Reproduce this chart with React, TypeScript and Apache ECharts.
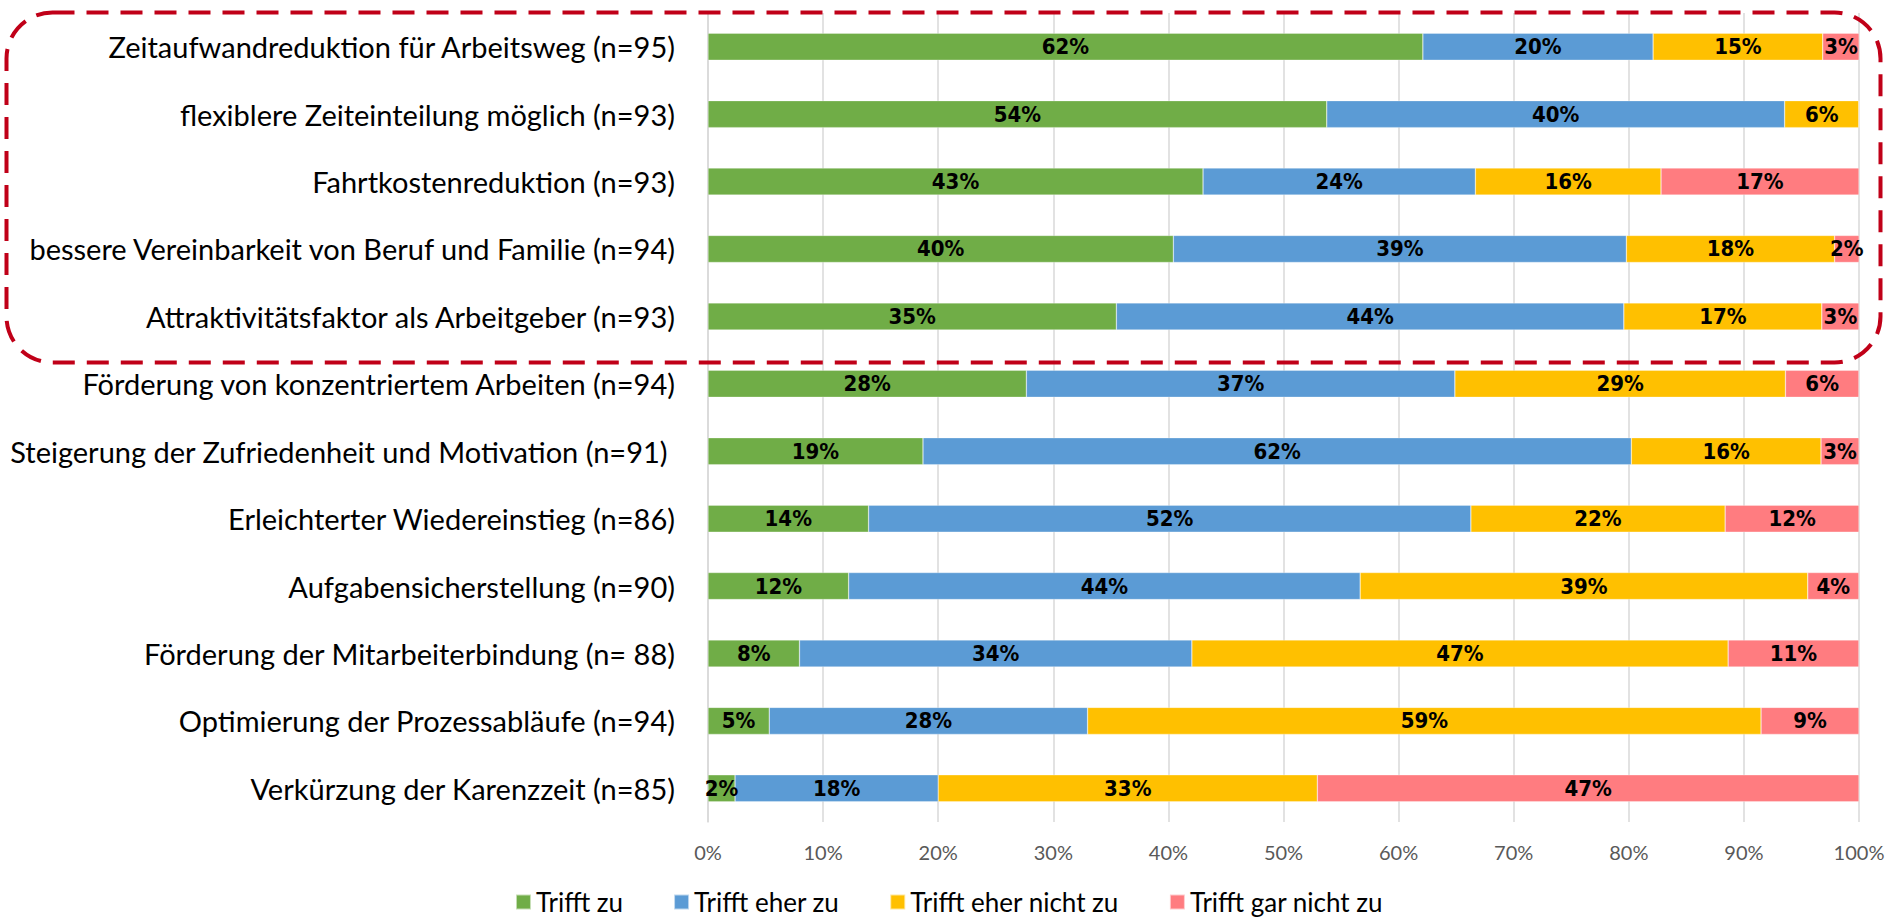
import React, { useEffect, useRef } from "react";
import * as echarts from "echarts";

const categories = [
  "Zeitaufwandreduktion für Arbeitsweg (n=95)",
  "flexiblere Zeiteinteilung möglich (n=93)",
  "Fahrtkostenreduktion (n=93)",
  "bessere Vereinbarkeit von Beruf und Familie (n=94)",
  "Attraktivitätsfaktor als Arbeitgeber (n=93)",
  "Förderung von konzentriertem Arbeiten (n=94)",
  "Steigerung der Zufriedenheit und Motivation (n=91) ",
  "Erleichterter Wiedereinstieg (n=86)",
  "Aufgabensicherstellung (n=90)",
  "Förderung der Mitarbeiterbindung (n= 88)",
  "Optimierung der Prozessabläufe (n=94)",
  "Verkürzung der Karenzzeit (n=85)",
];

const trifftZu = [62.11, 53.76, 43.01, 40.43, 35.48, 27.66, 18.68, 13.95, 12.22, 7.95, 5.32, 2.35];
const trifftEherZu = [20.0, 39.78, 23.66, 39.36, 44.09, 37.23, 61.54, 52.33, 44.44, 34.09, 27.66, 17.65];
const trifftEherNichtZu = [14.74, 6.45, 16.13, 18.09, 17.2, 28.72, 16.48, 22.09, 38.89, 46.59, 58.51, 32.94];
const trifftGarNichtZu = [3.16, 0, 17.2, 2.13, 3.23, 6.38, 3.3, 11.63, 4.44, 11.36, 8.51, 47.06];

const seriesNames = ["Trifft zu", "Trifft eher zu", "Trifft eher nicht zu", "Trifft gar nicht zu"];
const seriesColors = ["#70AD47", "#5B9BD5", "#FFC000", "#FF7C80"];
const xTicks = [0, 10, 20, 30, 40, 50, 60, 70, 80, 90, 100];

const labelFont = "Lato, 'Open Sans', sans-serif";
const barLabelFont = "'Liberation Sans Narrow', 'DejaVu Sans Condensed', Lato, sans-serif";

export default function App() {
  const ref = useRef<HTMLDivElement>(null);
  useEffect(() => {
    document.body.style.margin = "0";
    if (!ref.current) return;
    const chart = echarts.init(ref.current, undefined, { renderer: "svg" });
    const allData = [trifftZu, trifftEherZu, trifftEherNichtZu, trifftGarNichtZu];
    chart.setOption({
      animation: false,
      backgroundColor: "#ffffff",
      grid: { left: 708, right: 39, top: 13, bottom: 100, containLabel: false },
      xAxis: {
        type: "value",
        min: 0,
        max: 100,
        interval: 10,
        axisLine: { show: false },
        axisTick: { show: false },
        splitLine: { show: true, lineStyle: { color: "#D9D9D9", width: 1.5 } },
        axisLabel: {
          formatter: (v: number) => (xTicks.includes(v) ? v + "%" : ""),
          color: "#595959",
          fontSize: 20,
          fontFamily: labelFont,
          margin: 20,
        },
      },
      yAxis: {
        type: "category",
        data: categories,
        inverse: true,
        axisLine: { show: true, lineStyle: { color: "#D9D9D9", width: 1.5 } },
        axisTick: { show: false },
        axisLabel: {
          color: "#000000",
          fontSize: 29,
          fontFamily: labelFont,
          margin: 33,
        },
      },
      legend: {
        data: seriesNames,
        left: "center",
        bottom: 2,
        itemWidth: 15,
        itemHeight: 15,
        itemGap: 50,
        icon: "rect",
        textStyle: { fontSize: 26, fontFamily: labelFont, color: "#000000" },
      },
      series: seriesNames.map((name, i) => ({
        name,
        type: "bar",
        stack: "total",
        barWidth: 27,
        data: allData[i],
        itemStyle: { color: seriesColors[i], borderColor: "rgba(255,255,255,0.6)", borderWidth: 0.5 },
        label: {
          show: true,
          position: "inside",
          color: "#000000",
          fontWeight: "bold",
          fontSize: 22,
          fontFamily: barLabelFont,
          formatter: (p: any) => (p.value > 0 ? Math.round(p.value) + "%" : ""),
        },
      })),
      graphic: [
        {
          type: "rect",
          left: 4,
          top: 10,
          shape: { x: 0, y: 0, width: 1874, height: 350, r: 46 },
          style: { fill: "none", stroke: "#C00018", lineWidth: 4, lineDash: [22, 12] },
          z: 100,
          silent: true,
        },
      ],
    });
    return () => chart.dispose();
  }, []);
  return <div ref={ref} style={{ width: 1898, height: 922 }} />;
}
